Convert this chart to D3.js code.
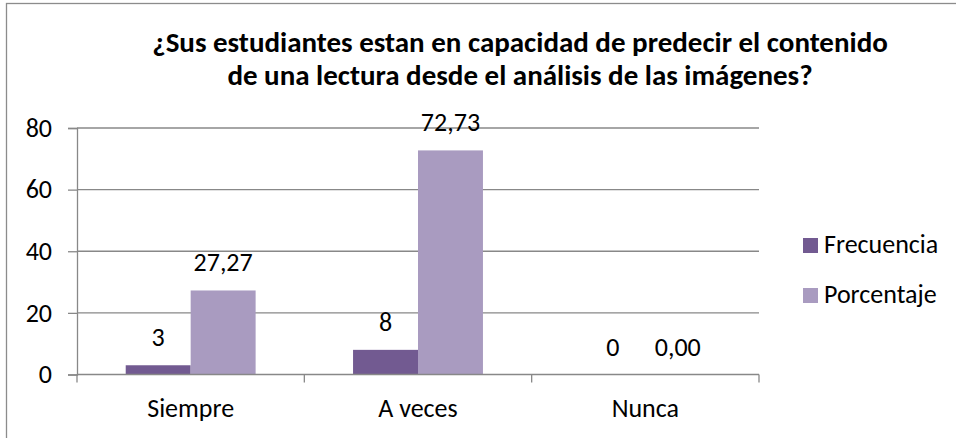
<!DOCTYPE html>
<html>
<head>
<meta charset="utf-8">
<script src="https://cdn.jsdelivr.net/npm/d3@7"></script>
<style>
  body { margin: 0; background: #fff; }
  svg { display: block; font-family: Calibri, Carlito, Lato, sans-serif; }
</style>
</head>
<body>
<svg width="956" height="438"></svg>
<script>
// chart data
var categories = ["Siempre", "A veces", "Nunca"];
var seriesNames = ["Frecuencia", "Porcentaje"];
var frecuencia = [3, 8, 0];
var porcentaje = [27.27, 72.73, 0];
var yTicks = [0, 20, 40, 60, 80];
var titleLines = [
  "¿Sus estudiantes estan en capacidad de predecir el contenido",
  "de una lectura desde el análisis de las imágenes?"
];
var colors = ["#725a91", "#a99bc0"];

var svg = d3.select("svg");

var plotLeft = 77, plotRight = 759, plotTop = 128, plotBottom = 374.5;

// outer frame (bottom and right edges fall outside the picture)
svg.append("rect")
  .attr("x", 6.5).attr("y", 3.5)
  .attr("width", 960).attr("height", 450)
  .attr("fill", "none")
  .attr("stroke", "#8c8c8c")
  .attr("stroke-width", 1.3);

// title
svg.append("g").selectAll("text")
  .data(titleLines)
  .enter().append("text")
    .attr("x", 520)
    .attr("y", function(d, i) { return 52 + i * 33; })
    .attr("text-anchor", "middle")
    .attr("font-weight", "bold")
    .attr("font-size", "29px")
    .attr("fill", "#000")
    .text(function(d) { return d; });

var x = d3.scaleBand().domain(categories).range([plotLeft, plotRight]).padding(0);
var xInner = d3.scaleBand().domain(seriesNames).range([0, x.bandwidth()])
  .paddingInner(0).paddingOuter(0.75);
var y = d3.scaleLinear().domain([0, 80]).range([plotBottom, plotTop]);

// gridlines
svg.append("g").selectAll("line")
  .data(yTicks.filter(function(d) { return d > 0; }))
  .enter().append("line")
    .attr("x1", plotLeft).attr("x2", plotRight)
    .attr("y1", function(d) { return y(d); })
    .attr("y2", function(d) { return y(d); })
    .attr("stroke", "#888")
    .attr("stroke-width", 1.3);

// y axis
var yAxis = svg.append("g")
  .attr("transform", "translate(" + plotLeft + ",0)")
  .call(d3.axisLeft(y).tickValues(yTicks).tickSize(9).tickPadding(16));
yAxis.attr("font-family", null).attr("font-size", null);
yAxis.select(".domain").attr("stroke", "#888").attr("stroke-width", 1.3);
yAxis.selectAll(".tick line").attr("stroke", "#888").attr("stroke-width", 1.3);
yAxis.selectAll(".tick text")
  .attr("font-size", "26px").attr("fill", "#000");

var series = seriesNames.map(function(name, i) {
  return { name: name, values: i === 0 ? frecuencia : porcentaje };
});

var fmt = d3.formatLocale({ decimal: ",", thousands: ".", grouping: [3], currency: ["", ""] });
var fmtPct = fmt.format(".2f");

function rows(s) {
  return categories.map(function(c, j) { return { cat: c, name: s.name, value: s.values[j] }; });
}

// bars
var groups = svg.append("g").selectAll("g")
  .data(series)
  .enter().append("g")
    .attr("fill", function(d, i) { return colors[i]; });

groups.selectAll("rect")
  .data(rows)
  .enter().append("rect")
    .attr("x", function(d) { return x(d.cat) + xInner(d.name); })
    .attr("width", xInner.bandwidth())
    .attr("y", function(d) { return y(d.value); })
    .attr("height", function(d) { return y(0) - y(d.value); });

// data labels
groups.selectAll("text")
  .data(rows)
  .enter().append("text")
    .attr("x", function(d) { return x(d.cat) + xInner(d.name) + xInner.bandwidth() / 2; })
    .attr("y", function(d) { return y(d.value) - 19; })
    .attr("text-anchor", "middle")
    .attr("font-size", "26px")
    .attr("fill", "#000")
    .text(function(d) { return d.name === "Frecuencia" ? d.value : fmtPct(d.value); });

// x axis
var xAxisG = svg.append("g");
xAxisG.append("line")
  .attr("x1", plotLeft).attr("x2", plotRight)
  .attr("y1", plotBottom).attr("y2", plotBottom)
  .attr("stroke", "#888").attr("stroke-width", 1.3);
xAxisG.selectAll("line.tk")
  .data(categories.concat(["_end"]))
  .enter().append("line")
    .attr("class", "tk")
    .attr("x1", function(d) { return d === "_end" ? plotRight : x(d); })
    .attr("x2", function(d) { return d === "_end" ? plotRight : x(d); })
    .attr("y1", plotBottom).attr("y2", plotBottom + 8)
    .attr("stroke", "#888").attr("stroke-width", 1.3);
xAxisG.selectAll("text")
  .data(categories)
  .enter().append("text")
    .attr("x", function(d) { return x(d) + x.bandwidth() / 2; })
    .attr("y", 417)
    .attr("text-anchor", "middle")
    .attr("font-size", "26px")
    .attr("fill", "#000")
    .text(function(d) { return d; });

// legend
var legend = svg.append("g").selectAll("g")
  .data(seriesNames)
  .enter().append("g")
    .attr("transform", function(d, i) { return "translate(803," + (238 + i * 50) + ")"; });
legend.append("rect")
  .attr("width", 15).attr("height", 15)
  .attr("fill", function(d, i) { return colors[i]; });
legend.append("text")
  .attr("x", 21).attr("y", 15)
  .attr("font-size", "26px")
  .attr("fill", "#000")
  .text(function(d) { return d; });
</script>
</body>
</html>
